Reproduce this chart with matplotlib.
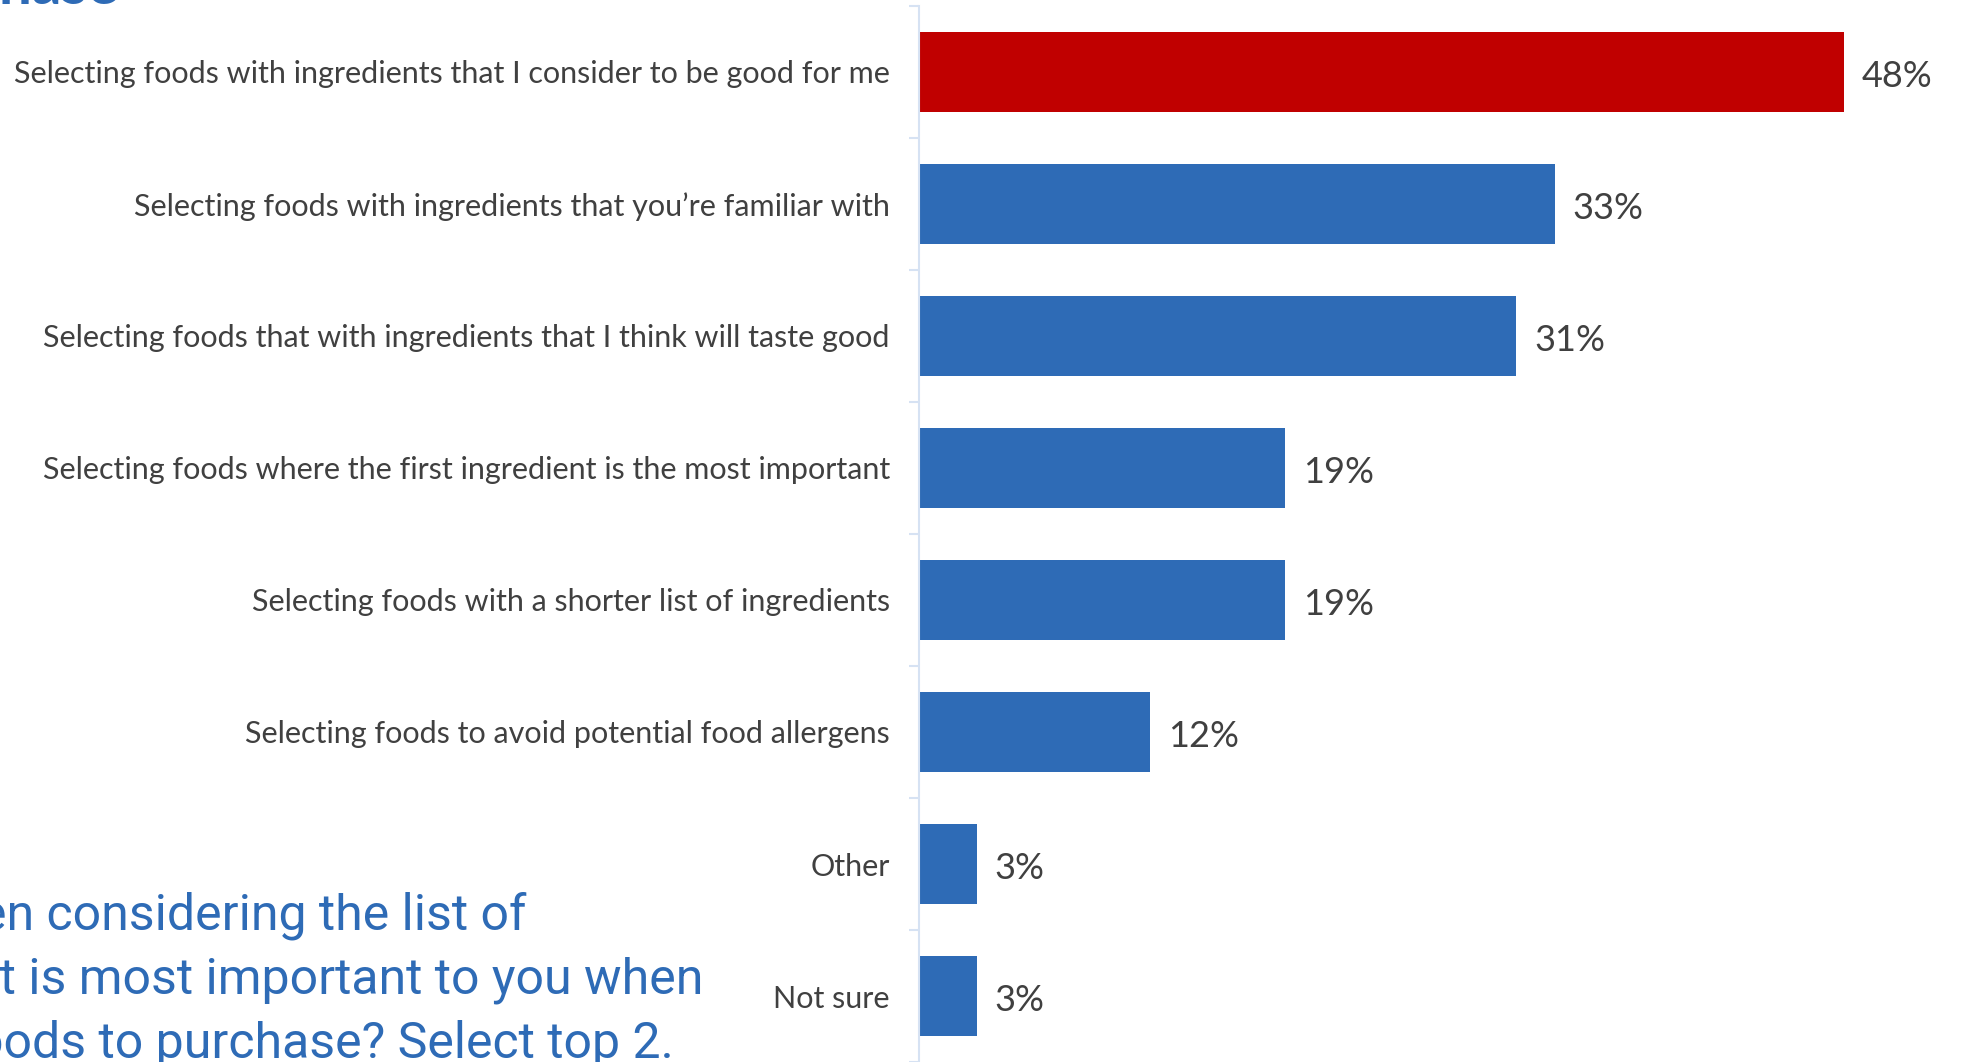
import matplotlib
matplotlib.use("Agg")
import matplotlib.pyplot as plt
import numpy as np

RED = "#C00000"
BLUE = "#2E6BB6"
GREY = "#404040"
AXIS = "#D6E2F3"
NARROW = ["Liberation Sans Narrow", "DejaVu Sans Condensed", "Roboto", "DejaVu Sans"]

categories = [
    "Selecting foods with ingredients that I consider to be good for me",
    "Selecting foods with ingredients that you\u2019re familiar with",
    "Selecting foods that with ingredients that I think will taste good",
    "Selecting foods where the first ingredient is the most important",
    "Selecting foods with a shorter list of ingredients",
    "Selecting foods to avoid potential food allergens",
    "Other",
    "Not sure",
]
values = [48, 33, 31, 19, 19, 12, 3, 3]
bar_colors = [RED] + [BLUE] * 7

question_lines = [
    "When considering the list of",
    "ingredients, what is most important to you when",
    "selecting foods to purchase? Select top 2.",
]
title = "Ingredients Considered at Purchase"

W, H = 1965, 1062
fig = plt.figure(figsize=(W / 100, H / 100), dpi=100)
fig.patch.set_facecolor("white")
ax = fig.add_axes([919 / W, 0, 1 - 919 / W, 1 - 6 / H])

y = np.arange(len(categories))
ax.barh(y, values, height=0.6, color=bar_colors, zorder=2)
for yi, v in zip(y, values):
    ax.annotate(f"{v}%", (v, yi), xytext=(13, -3), textcoords="offset points",
                va="center", ha="left", fontsize=26, color=GREY,
                family="Lato")

ax.set_xlim(0, 54.3)
ax.set_ylim(len(categories) - 0.5, -0.5)
ax.set_xticks([])
ax.set_yticks(y)
ax.set_yticklabels(categories, fontsize=22, color=GREY, family="Lato")
ax.set_yticks(np.arange(len(categories) + 1) - 0.5, minor=True)
ax.tick_params(axis="y", which="major", length=0, pad=21)
ax.tick_params(axis="y", which="minor", length=7.5, width=1.5, color=AXIS)
for sp in ("top", "right", "bottom"):
    ax.spines[sp].set_visible(False)
ax.spines["left"].set_color(AXIS)
ax.spines["left"].set_linewidth(1.5)

# slide title and question text, partly running off the canvas
fig.text(118 / W, 1 - 4 / H, title, ha="right", va="baseline",
         fontsize=42, weight="bold", color=BLUE, family="Lato")
line_ends = [526, 703, 674]
baselines = [930, 993, 1057]
for txt, xe, yb in zip(question_lines, line_ends, baselines):
    fig.text(xe / W, 1 - yb / H, txt, ha="right", va="baseline",
             fontsize=36, color=BLUE, family=NARROW)

fig.savefig("out.png", dpi=100, facecolor="white")
